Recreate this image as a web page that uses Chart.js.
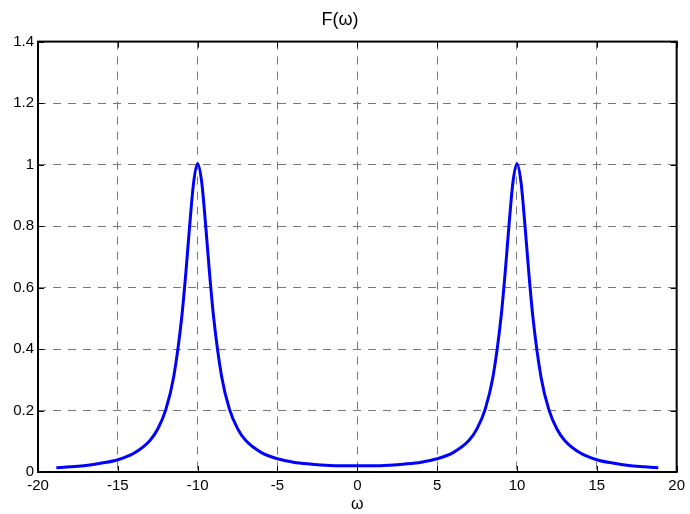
<!DOCTYPE html>
<html>
<head>
<meta charset="utf-8">
<script src="https://cdn.jsdelivr.net/npm/chart.js@4/dist/chart.umd.min.js"></script>
<style>
  html, body { margin: 0; padding: 0; background: #fff; }
  #wrap { width: 690px; height: 514px; position: relative; }
</style>
</head>
<body>
<div id="wrap"><canvas id="chart" width="690" height="514"></canvas></div>
<script>
// values
var omega = [-18.85, -18, -17, -16, -15, -14, -13, -12.5, -12, -11.5, -11, -10.75, -10.5, -10.25, -10,
             -9.75, -9.5, -9.25, -9, -8.5, -8, -7.5, -7, -6, -5, -4, -3, -2, -1, 0,
             1, 2, 3, 4, 5, 6, 7, 7.5, 8, 8.5, 9, 9.25, 9.5, 9.75, 10,
             10.25, 10.5, 10.75, 11, 11.5, 12, 12.5, 13, 14, 15, 16, 17, 18, 18.85];
var F = [0.014, 0.017, 0.021, 0.029, 0.040, 0.061, 0.102, 0.140, 0.202, 0.310, 0.502, 0.642, 0.802, 0.943, 1.003,
         0.944, 0.803, 0.643, 0.503, 0.311, 0.203, 0.141, 0.103, 0.063, 0.043, 0.032, 0.026, 0.022, 0.020, 0.020,
         0.020, 0.022, 0.026, 0.032, 0.043, 0.063, 0.103, 0.141, 0.203, 0.311, 0.503, 0.643, 0.803, 0.944, 1.003,
         0.943, 0.802, 0.642, 0.502, 0.310, 0.202, 0.140, 0.102, 0.061, 0.040, 0.029, 0.021, 0.017, 0.014];
var xTicks = [-20, -15, -10, -5, 0, 5, 10, 15, 20];
var yTicks = [0, 0.2, 0.4, 0.6, 0.8, 1, 1.2, 1.4];

var points = omega.map(function (w, i) { return { x: w, y: F[i] }; });
var FONT = 'Arial, "Liberation Sans", sans-serif';

// MATLAB-like frame with inward ticks on all four sides
var framePlugin = {
    id: 'frame',
    afterDatasetsDraw: function (chart) {
        var ctx = chart.ctx, a = chart.chartArea;
        var xs = chart.scales.x, ys = chart.scales.y;
        ctx.save();
        ctx.strokeStyle = '#000';
        ctx.lineWidth = 1;
        ctx.beginPath();
        xTicks.forEach(function (t) {
            var px = Math.round(xs.getPixelForValue(t)) + 0.5;
            ctx.moveTo(px, a.bottom); ctx.lineTo(px, a.bottom - 6);
            ctx.moveTo(px, a.top); ctx.lineTo(px, a.top + 6);
        });
        yTicks.forEach(function (t) {
            var py = Math.round(ys.getPixelForValue(t)) + 0.5;
            ctx.moveTo(a.left, py); ctx.lineTo(a.left + 6, py);
            ctx.moveTo(a.right, py); ctx.lineTo(a.right - 6, py);
        });
        ctx.stroke();
        ctx.lineWidth = 2;
        ctx.strokeRect(a.left, a.top, a.right - a.left, a.bottom - a.top);
        ctx.restore();
    }
};

new Chart(document.getElementById('chart'), {
    type: 'line',
    data: {
        datasets: [{
            data: points,
            borderColor: '#0000ff',
            borderWidth: 3,
            pointRadius: 0,
            fill: false,
            cubicInterpolationMode: 'monotone'
        }]
    },
    options: {
        responsive: false,
        animation: false,
        layout: { padding: { left: 0, right: 10, top: 0, bottom: 0 } },
        plugins: {
            legend: { display: false },
            tooltip: { enabled: false },
            title: {
                display: true,
                text: 'F(ω)',
                color: '#000',
                font: { family: FONT, size: 18, weight: 'normal' },
                padding: { top: 9, bottom: 11 }
            }
        },
        scales: {
            x: {
                type: 'linear',
                min: -20, max: 20,
                afterBuildTicks: function (s) { s.ticks = xTicks.map(function (v) { return { value: v }; }); },
                afterFit: function (s) { s.height = 42; },
                ticks: {
                    color: '#000',
                    padding: 5,
                    maxRotation: 0,
                    font: { family: FONT, size: 15 }
                },
                grid: { color: '#777', lineWidth: 1, drawTicks: false },
                border: { display: false, dash: [8, 7] },
                title: {
                    display: true,
                    text: 'ω',
                    color: '#000',
                    font: { family: FONT, size: 16 },
                    padding: { top: 0, bottom: 0 }
                }
            },
            y: {
                type: 'linear',
                min: 0, max: 1.4,
                afterBuildTicks: function (s) { s.ticks = yTicks.map(function (v) { return { value: v }; }); },
                afterFit: function (s) { s.width = 38; },
                ticks: {
                    color: '#000',
                    padding: 4,
                    font: { family: FONT, size: 15 },
                    callback: function (v) { return String(Math.round(v * 10) / 10); }
                },
                grid: { color: '#777', lineWidth: 1, drawTicks: false },
                border: { display: false, dash: [8, 7] }
            }
        }
    },
    plugins: [framePlugin]
});
</script>
</body>
</html>
